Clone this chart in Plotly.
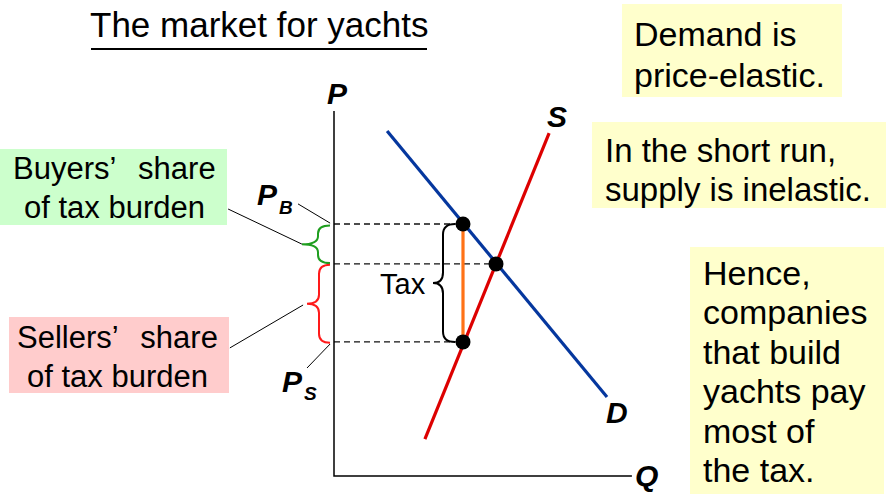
import plotly.graph_objects as go

# ---------------- data (economic units: Q horizontal, P vertical) ----------------
demand_q = [1.77, 9.10]
demand_p = [11.50, 2.63]
supply_q = [3.03, 7.17]
supply_p = [1.23, 11.43]
q_tax = 4.30          # quantity traded with the tax
p_buyers = 8.40       # price paid by buyers (P_B)
p_sellers = 4.47      # price received by sellers (P_S)
q_eq = 5.40           # equilibrium without tax
p_eq = 7.07
axis_q_max = 9.93
axis_p_max = 12.17

# leader lines for labels
pb_leader_q = [-1.20, -0.13]
pb_leader_p = [9.07, 8.43]
buyers_leader_q = [-3.53, -1.07]
buyers_leader_p = [8.90, 7.73]
sellers_leader_q = [-3.47, -1.03]
sellers_leader_p = [4.27, 5.70]
ps_leader_q = [-0.13, -0.90]
ps_leader_p = [4.40, 3.60]

title_text = "The market for yachts"
box_demand = ["Demand is", "price-elastic."]
box_supply = ["In the short run,", "supply is inelastic."]
box_hence = ["Hence,", "companies", "that build", "yachts pay", "most of", "the tax."]
box_buyers = ["Buyers’\u2002\u2009share", "of tax burden"]
box_sellers = ["Sellers’\u2002\u2009share", "of tax burden"]

# ---------------- layout helpers ----------------
W, H = 886, 494
X0, Y0, S = 334, 476, 30.0   # pixel origin of the axes and pixels per unit
FONT = "Arial, Liberation Sans, sans-serif"


def px(x):
    return x / W


def py(y):
    return 1 - y / H


def dq(x):
    return (x - X0) / S


fig = go.Figure()

dash_style = dict(color="#111111", width=1.3, dash="6px,4px")
fig.add_trace(go.Scatter(x=[0, q_tax], y=[p_buyers, p_buyers], mode="lines", line=dash_style))
fig.add_trace(go.Scatter(x=[0, q_eq], y=[p_eq, p_eq], mode="lines", line=dash_style))
fig.add_trace(go.Scatter(x=[0, q_tax], y=[p_sellers, p_sellers], mode="lines", line=dash_style))

# axes
fig.add_trace(go.Scatter(x=[0, 0, axis_q_max], y=[axis_p_max, 0, 0], mode="lines",
                         line=dict(color="black", width=1.5)))

# demand & supply
fig.add_trace(go.Scatter(x=demand_q, y=demand_p, mode="lines", line=dict(color="#05379e", width=3.2)))
fig.add_trace(go.Scatter(x=supply_q, y=supply_p, mode="lines", line=dict(color="#dd0000", width=3.2)))

# tax wedge
fig.add_trace(go.Scatter(x=[q_tax, q_tax], y=[p_buyers, p_sellers], mode="lines",
                         line=dict(color="#ff7216", width=3.2)))

# leader lines
for lq, lp in [(pb_leader_q, pb_leader_p), (buyers_leader_q, buyers_leader_p),
               (sellers_leader_q, sellers_leader_p), (ps_leader_q, ps_leader_p)]:
    fig.add_trace(go.Scatter(x=lq, y=lp, mode="lines", line=dict(color="black", width=1)))

# points
fig.add_trace(go.Scatter(x=[q_tax, q_eq, q_tax], y=[p_buyers, p_eq, p_sellers], mode="markers",
                         marker=dict(color="black", size=15)))


def brace(y_hi, y_lo, x_tip, x_mid, x_end, r):
    ym = (y_hi + y_lo) / 2
    return (f"M {x_end},{y_hi} Q {x_mid},{y_hi} {x_mid},{y_hi - r} "
            f"L {x_mid},{ym + r} Q {x_mid},{ym} {x_tip},{ym} "
            f"Q {x_mid},{ym} {x_mid},{ym - r} L {x_mid},{y_lo + r} "
            f"Q {x_mid},{y_lo} {x_end},{y_lo}")


shapes = []
# background boxes
for (x1, y1, x2, y2, col) in [(0, 149, 227, 225, "#ccffcc"), (9, 317, 229, 393, "#ffcccc"),
                              (622, 4, 842, 97, "#ffffcc"), (592, 122, 886, 208, "#ffffcc"),
                              (690, 247, 884, 494, "#ffffcc")]:
    shapes.append(dict(type="rect", xref="paper", yref="paper", x0=px(x1), x1=px(x2),
                       y0=py(y2), y1=py(y1), fillcolor=col, line=dict(width=0), layer="below"))
# title underline
shapes.append(dict(type="line", xref="paper", yref="paper", x0=px(91), x1=px(427),
                   y0=py(49), y1=py(49), line=dict(color="black", width=2)))
# braces
shapes.append(dict(type="path", xref="x", yref="y",
                   path=brace(p_buyers - 0.05, p_eq + 0.03, dq(302), dq(318), dq(330), 0.27),
                   line=dict(color="#1f9e1f", width=2)))
shapes.append(dict(type="path", xref="x", yref="y",
                   path=brace(p_eq - 0.03, p_sellers - 0.03, dq(307), dq(319), dq(330), 0.3),
                   line=dict(color="#ff1a1a", width=2)))
shapes.append(dict(type="path", xref="x", yref="y",
                   path=brace(p_buyers, p_sellers, dq(433), dq(443), dq(455), 0.35),
                   line=dict(color="black", width=2)))

ann = []


def text(x, y, t, size, xanchor="left", bold_italic=False):
    if bold_italic:
        t = f"<b><i>{t}</i></b>"
    ann.append(dict(x=px(x), y=py(y), xref="paper", yref="paper", text=t, showarrow=False,
                    xanchor=xanchor, yanchor="middle", font=dict(family=FONT, size=size, color="black")))


text(259, 24, title_text, 35, "center")
for t, y in zip(box_demand, [34, 75]):
    text(632, y, t, 34)
for t, y in zip(box_supply, [150, 189]):
    text(603, y, t, 33)
for t, y in zip(box_hence, [273, 312, 352, 391, 431, 470]):
    text(701, y, t, 34)
for t, y in zip(box_buyers, [169, 207]):
    text(114, y, t, 31, "center")
for t, y in zip(box_sellers, [337, 376]):
    text(118, y, t, 31, "center")
text(403, 284, "Tax", 29, "center")
text(337, 93, "P", 30, "center", True)
text(557, 116, "S", 30, "center", True)
text(617, 412, "D", 30, "center", True)
text(646, 475, "Q", 30, "center", True)
text(267, 194, "P", 30, "center", True)
text(286, 207, "B", 19, "center", True)
text(292, 381, "P", 30, "center", True)
text(310, 393, "S", 19, "center", True)

fig.update_layout(
    width=W, height=H, margin=dict(l=0, r=0, t=0, b=0),
    paper_bgcolor="white", plot_bgcolor="white", showlegend=False,
    xaxis=dict(range=[-X0 / S, (W - X0) / S], visible=False, fixedrange=True),
    yaxis=dict(range=[-(H - Y0) / S, Y0 / S], visible=False, fixedrange=True),
    shapes=shapes, annotations=ann,
)

fig.write_html("out.html", config={"displayModeBar": False},
               post_script="document.body.style.margin='0';document.body.style.overflow='hidden';")
